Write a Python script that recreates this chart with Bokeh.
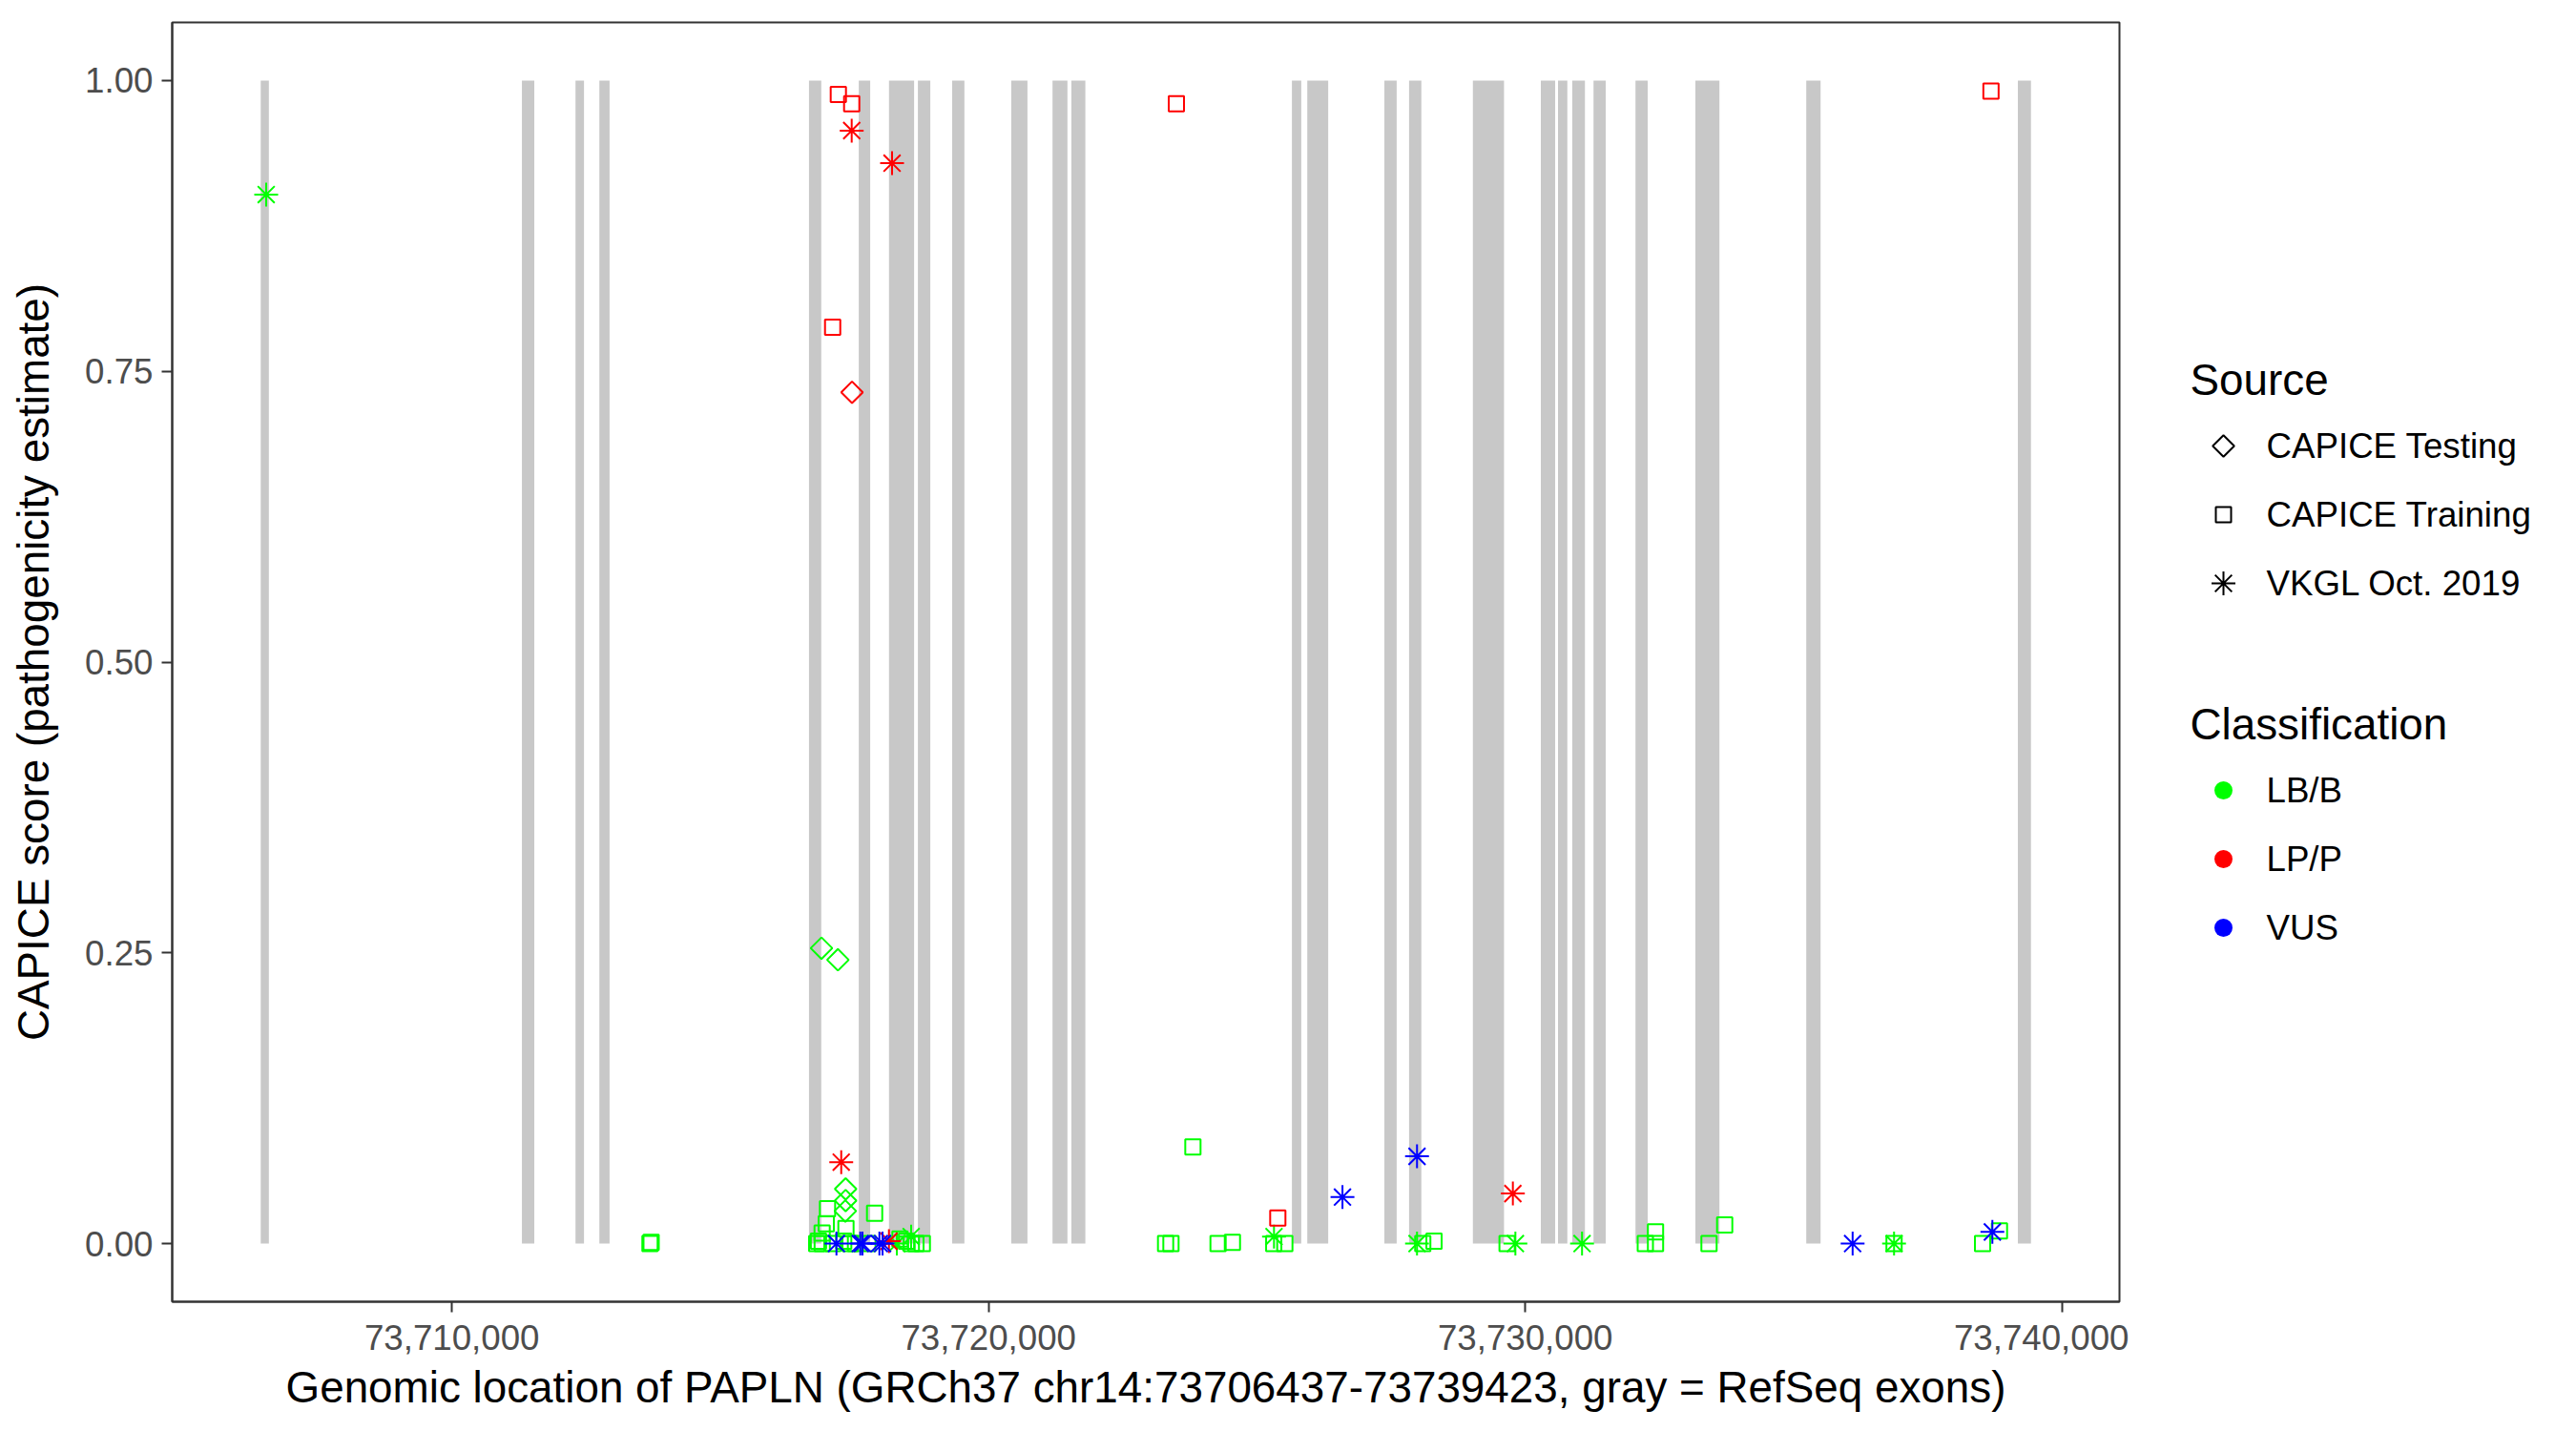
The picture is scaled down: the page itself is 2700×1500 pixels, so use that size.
import numpy as np
from bokeh.plotting import figure
from bokeh.layouts import row
from bokeh.models import (ColumnDataSource, Range1d, FixedTicker, NumeralTickFormatter)
from bokeh.core.properties import value
from bokeh.embed import file_html
from bokeh.resources import INLINE

# ---------------- data ----------------
gene_start = 73706437
gene_end = 73739423

exon_start = [73706437, 73711304, 73712303, 73712747, 73716653, 73717581, 73718144,
              73718683, 73719320, 73720422, 73721191, 73721542, 73725652, 73725938,
              73727375, 73727835, 73729024, 73730290, 73730610, 73730875, 73731272,
              73732054, 73733170, 73735236, 73739179]
exon_end = [73706589, 73711535, 73712461, 73712937, 73716882, 73717794, 73718612,
            73718914, 73719549, 73720724, 73721469, 73721803, 73725826, 73726328,
            73727604, 73728064, 73729604, 73730557, 73730784, 73731112, 73731499,
            73732281, 73733618, 73735503, 73739423]

var_pos = [73706539, 73713690, 73713712,
           73717200, 73717449, 73717449, 73718201, 73717094, 73717455,
           73716886, 73717192, 73723499, 73738678,
           73717254, 73717336, 73717336, 73717330, 73716998, 73717876, 73716975,
           73716898, 73717342, 73716797, 73716830, 73716900, 73717100, 73717300,
           73717420, 73717520, 73717750, 73718349, 73718470, 73718560, 73718646,
           73718765, 73717165, 73717609, 73717650, 73717965, 73718024, 73718143,
           73718290, 73718557,
           73723807, 73723298, 73723398, 73724276, 73724543, 73725389, 73725318,
           73725313, 73725520, 73726594, 73727983, 73727983, 73728090, 73728300,
           73729769, 73729661, 73729816, 73731058, 73732237, 73732427, 73732427,
           73733424, 73733716, 73736100, 73736872, 73736872, 73738521, 73738704,
           73738836]
var_score = [0.902, 0.000, 0.001,
             0.988, 0.980, 0.957, 0.929, 0.788, 0.732,
             0.254, 0.244, 0.980, 0.991,
             0.070, 0.047, 0.037, 0.028, 0.030, 0.026, 0.017,
             0.009, 0.013, 0.000, 0.002, 0.000, 0.000, 0.002,
             0.000, 0.000, 0.000, 0.004, 0.002, 0.000, 0.000,
             0.000, 0.000, 0.000, 0.000, 0.000, 0.000, 0.002,
             0.000, 0.006,
             0.083, 0.000, 0.000, 0.000, 0.001, 0.022, 0.006,
             0.000, 0.000, 0.040, 0.075, 0.000, 0.000, 0.002,
             0.043, 0.000, 0.000, 0.000, 0.000, 0.010, 0.000,
             0.000, 0.016, 0.000, 0.000, 0.000, 0.000, 0.010,
             0.011]
TE, TR, VK = "CAPICE Testing", "CAPICE Training", "VKGL Oct. 2019"
var_source = [VK, TR, TR,
              TR, TR, VK, VK, TR, TE,
              TE, TE, TR, TR,
              VK, TE, TE, TE, TR, TR, TR,
              TR, TR, TR, TR, TR, TR, TR,
              TR, TR, TR, TR, TR, TR, TR,
              TR, VK, VK, VK, VK, VK, VK,
              VK, VK,
              TR, TR, TR, TR, TR, TR, VK,
              TR, TR, VK, VK, VK, TR, TR,
              VK, TR, VK, VK, TR, TR, TR,
              TR, TR, VK, VK, TR, TR, VK,
              TR]
B, P, U = "LB/B", "LP/P", "VUS"
var_class = [B, B, B,
             P, P, P, P, P, P,
             B, B, P, P,
             P, B, B, B, B, B, B,
             B, B, B, B, B, B, B,
             B, B, B, B, B, B, B,
             B, U, U, U, U, U, P,
             B, B,
             B, B, B, B, B, P, B,
             B, B, U, U, B, B, B,
             P, B, B, B, B, B, B,
             B, B, U, B, B, B, U,
             B]

source_title = "Source"
source_labels = [TE, TR, VK]
class_title = "Classification"
class_labels = [B, P, U]
x_ticks = [73710000, 73720000, 73730000, 73740000]
y_ticks = [0, 0.25, 0.5, 0.75, 1.0]

# ---------------- styles ----------------
FONT = "Liberation Sans"
marker_map = {TE: "square", TR: "square", VK: "asterisk"}
angle_map = {TE: np.pi / 4, TR: 0.0, VK: 0.0}
size_map = {TE: 16, TR: 16, VK: 25}
color_map = {B: "#00FF00", P: "#FF0000", U: "#0000FF"}
order_map = {B: 0, P: 1, U: 2}

idx = sorted(range(len(var_pos)), key=lambda i: order_map[var_class[i]])
src = ColumnDataSource(dict(
    x=[var_pos[i] for i in idx],
    y=[var_score[i] for i in idx],
    marker=[marker_map[var_source[i]] for i in idx],
    angle=[angle_map[var_source[i]] for i in idx],
    size=[size_map[var_source[i]] for i in idx],
    color=[color_map[var_class[i]] for i in idx],
))

FRAME_TOP, FRAME_H = 23, 1341
pad_x = 0.05 * (gene_end - gene_start)
p = figure(frame_width=2041, frame_height=FRAME_H, output_backend="svg", toolbar_location=None,
           x_range=Range1d(gene_start - pad_x, gene_end + pad_x),
           y_range=Range1d(-0.05, 1.05),
           min_border_left=180, min_border_right=10, min_border_top=FRAME_TOP,
           min_border_bottom=120)

p.quad(left=exon_start, right=exon_end, bottom=0, top=1,
       fill_color="#C8C8C8", line_color=None)

p.scatter(x="x", y="y", marker="marker", angle="angle", size="size",
          line_color="color", fill_color=None, line_width=2, source=src)

# axes / frame
p.grid.grid_line_color = None
p.outline_line_color = "#333333"
p.outline_line_width = 2
p.background_fill_color = "white"
p.border_fill_color = "white"

for ax in (p.xaxis[0], p.yaxis[0]):
    ax.axis_line_color = "#333333"
    ax.axis_line_width = 2
    ax.major_tick_line_color = "#333333"
    ax.major_tick_line_width = 2
    ax.major_tick_out = 11
    ax.major_tick_in = 0
    ax.minor_tick_line_color = None
    ax.major_label_text_font = FONT
    ax.major_label_text_font_size = "36.7px"
    ax.major_label_text_color = "#4D4D4D"
    ax.axis_label_text_font = FONT
    ax.axis_label_text_font_size = "45.8px"
    ax.axis_label_text_font_style = "normal"
    ax.axis_label_text_color = "black"

p.xaxis.ticker = FixedTicker(ticks=x_ticks)
p.xaxis.formatter = NumeralTickFormatter(format="0,0")
p.xaxis.axis_label = "Genomic location of PAPLN (GRCh37 chr14:73706437-73739423, gray = RefSeq exons)"
p.xaxis.major_label_standoff = 13
p.xaxis.axis_label_standoff = 11
p.yaxis.ticker = FixedTicker(ticks=y_ticks)
p.yaxis.formatter = NumeralTickFormatter(format="0.00")
p.yaxis.axis_label = "CAPICE score (pathogenicity estimate)"
p.yaxis.major_label_standoff = 9
p.yaxis.axis_label_standoff = 25

# ---------------- legend panel (screen-pixel coordinates) ----------------
LW = 450
lp = figure(frame_width=LW, frame_height=FRAME_H, output_backend="svg", toolbar_location=None,
            x_axis_type=None, y_axis_type=None,
            x_range=Range1d(0, LW), y_range=Range1d(FRAME_TOP + FRAME_H, FRAME_TOP),
            min_border_left=0, min_border_right=0, min_border_top=FRAME_TOP,
            min_border_bottom=120)
lp.grid.grid_line_color = None
lp.outline_line_color = None
lp.background_fill_color = "white"
lp.border_fill_color = "white"

TITLE_X, KEY_X, LABEL_X = 64, 99, 144
SRC_TITLE_Y, SRC_ITEM_Y0 = 398, 467
CLS_TITLE_Y, CLS_ITEM_Y0 = 759, 828
ITEM_STEP = 72

lp.text(x=[TITLE_X, TITLE_X], y=[SRC_TITLE_Y, CLS_TITLE_Y], text=[source_title, class_title],
        text_font=value(FONT), text_font_size="45.8px", text_color="black",
        text_align="left", text_baseline="middle")

src_key_y = [SRC_ITEM_Y0 + ITEM_STEP * i for i in range(len(source_labels))]
lp.scatter(x=[KEY_X] * len(source_labels), y=src_key_y,
           marker=[marker_map[s] for s in source_labels],
           angle=[angle_map[s] for s in source_labels],
           size=[size_map[s] for s in source_labels],
           line_color="black", fill_color=None, line_width=2)
lp.text(x=[LABEL_X] * len(source_labels), y=src_key_y, text=source_labels,
        text_font=value(FONT), text_font_size="36.7px", text_color="black",
        text_align="left", text_baseline="middle")

cls_key_y = [CLS_ITEM_Y0 + ITEM_STEP * i for i in range(len(class_labels))]
lp.scatter(x=[KEY_X] * len(class_labels), y=cls_key_y, marker="circle", size=19,
           fill_color=[color_map[c] for c in class_labels], line_color=None)
lp.text(x=[LABEL_X] * len(class_labels), y=cls_key_y, text=class_labels,
        text_font=value(FONT), text_font_size="36.7px", text_color="black",
        text_align="left", text_baseline="middle")

layout = row(p, lp, spacing=0)
open("out.html", "w").write(file_html(layout, INLINE))
